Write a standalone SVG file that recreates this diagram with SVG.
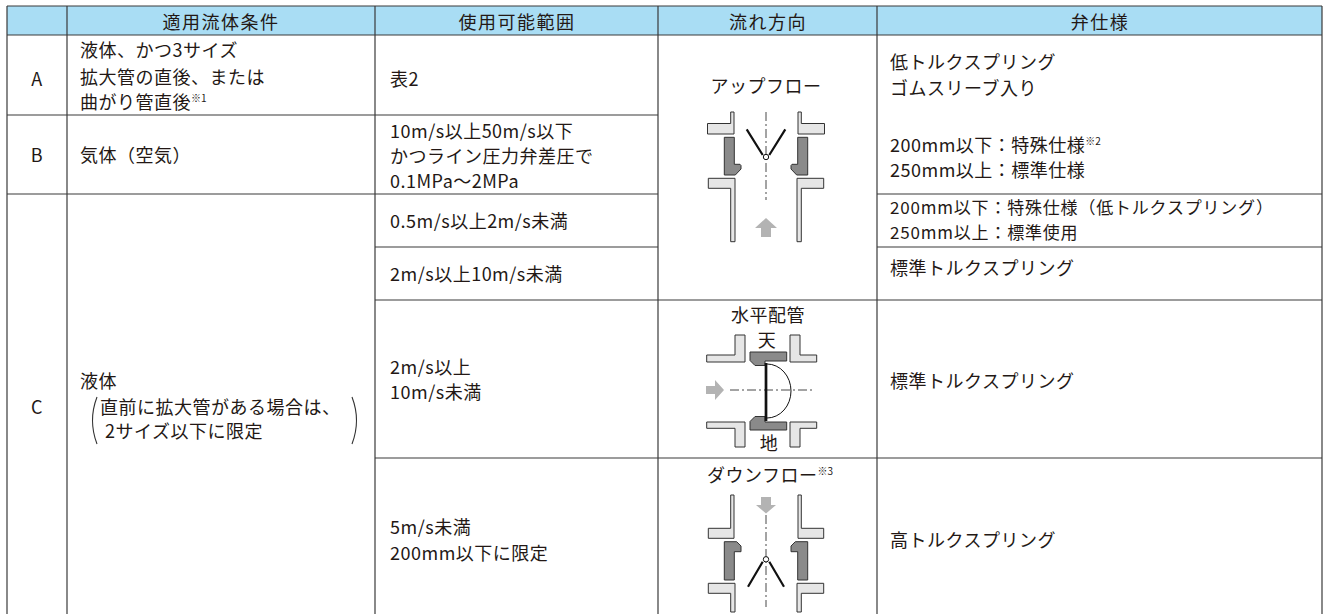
<svg xmlns="http://www.w3.org/2000/svg" width="1327" height="614" viewBox="0 0 1327 614">
<defs>
<style>
text { font-family: "Noto Sans CJK JP", "Noto Sans", sans-serif; font-size: 18px; fill: #231815; letter-spacing: 0.5px; }
.hd { text-anchor: middle; letter-spacing: 1.5px; }
.c { text-anchor: middle; }
.sm { font-size: 17px; letter-spacing: 0.8px; }
.sup { font-size: 10px; letter-spacing: 0; }
.grid line { stroke: #3a3a3a; stroke-width: 1.2; }
.fl { fill: #e6e6e6; stroke: #333; stroke-width: 1; }
.dk { fill: #8a8a8a; stroke: #333; stroke-width: 1; }
.disc { stroke: #111; stroke-width: 2.2; fill: none; }
.cl { stroke: #333; stroke-width: 0.9; stroke-dasharray: 9 3 2 3; fill: none; }
.arr { fill: #b3b3b3; }
.pivot { fill: #fff; stroke: #111; stroke-width: 1; }
.br { fill: none; stroke: #333; stroke-width: 1.1; }
</style>
</defs>
<rect width="1327" height="614" fill="#fff"/>
<g id="header">
<rect x="7" y="6" width="1315" height="29" fill="#a9ddf4"/>
<text class="hd" x="221" y="29">適用流体条件</text>
<text class="hd" x="517" y="29">使用可能範囲</text>
<text class="hd" x="768" y="29">流れ方向</text>
<text class="hd" x="1100" y="29">弁仕様</text>
</g>
<g id="grid" class="grid">
<line x1="7" y1="6" x2="7" y2="614"/>
<line x1="67" y1="6" x2="67" y2="614"/>
<line x1="375" y1="6" x2="375" y2="614"/>
<line x1="658" y1="6" x2="658" y2="614"/>
<line x1="877" y1="6" x2="877" y2="614"/>
<line x1="1322" y1="6" x2="1322" y2="614"/>
<line x1="7" y1="6" x2="1322" y2="6"/>
<line x1="7" y1="35" x2="1322" y2="35"/>
<line x1="7" y1="115" x2="658" y2="115"/>
<line x1="7" y1="194" x2="658" y2="194"/>
<line x1="877" y1="194" x2="1322" y2="194"/>
<line x1="375" y1="247" x2="658" y2="247"/>
<line x1="877" y1="247" x2="1322" y2="247"/>
<line x1="375" y1="300" x2="1322" y2="300"/>
<line x1="375" y1="458" x2="1322" y2="458"/>
</g>
<g id="row-a">
<text class="c" x="37" y="86">A</text>
<text x="80" y="57">液体、かつ3サイズ</text>
<text x="80" y="84">拡大管の直後、または</text>
<text x="80" y="109">曲がり管直後<tspan class="sup" dy="-7">※1</tspan></text>
<text x="390" y="86">表2</text>
</g>
<g id="row-b">
<text class="c" x="37" y="162">B</text>
<text x="80" y="162">気体（空気）</text>
<text x="390" y="138">10m/s以上50m/s以下</text>
<text x="390" y="163">かつライン圧力弁差圧で</text>
<text x="390" y="188">0.1MPa〜2MPa</text>
</g>
<g id="spec-ab">
<text x="890" y="69">低トルクスプリング</text>
<text x="890" y="95">ゴムスリーブ入り</text>
<text x="890" y="152">200mm以下：特殊仕様<tspan class="sup" dy="-7">※2</tspan></text>
<text x="890" y="177">250mm以上：標準仕様</text>
</g>
<g id="row-c">
<text class="c" x="37" y="414">C</text>
<text x="80" y="388">液体</text>
<path class="br" d="M97,397 Q88,420.5 97,444"/>
<text x="100" y="414">直前に拡大管がある場合は、</text>
<text x="105" y="438">2サイズ以下に限定</text>
<path class="br" d="M352,397 Q361,420.5 352,444"/>
</g>
<g id="row-c1">
<text x="390" y="228">0.5m/s以上2m/s未満</text>
<text class="sm" x="890" y="213.5">200mm以下：特殊仕様（低トルクスプリング）</text>
<text class="sm" x="890" y="238.5">250mm以上：標準使用</text>
</g>
<g id="row-c2">
<text x="390" y="281">2m/s以上10m/s未満</text>
<text x="890" y="275">標準トルクスプリング</text>
</g>
<g id="row-c3">
<text x="390" y="374">2m/s以上</text>
<text x="390" y="399">10m/s未満</text>
<text x="890" y="388">標準トルクスプリング</text>
</g>
<g id="row-c4">
<text x="390" y="534">5m/s未満</text>
<text x="390" y="560">200mm以下に限定</text>
<text x="890" y="547">高トルクスプリング</text>
</g>
<g id="flow-up">
<text class="c" x="766" y="93">アップフロー</text>
<g transform="translate(766,0)">
<path class="fl" d="M-35.3,112 H-32 V134 H-58.5 V123.5 H-35.3 Z"/>
<path class="fl" d="M35.3,112 H32 V134 H58.5 V123.5 H35.3 Z"/>
<path class="dk" d="M-41.7,137.3 H-31.7 V164.3 H-26 L-25,165.5 V169 L-30.7,175 H-41.7 Z"/>
<path class="dk" d="M41.7,137.3 H31.7 V164.3 H26 L25,165.5 V169 L30.7,175 H41.7 Z"/>
<path class="cl" d="M0,112 V200"/>
<path class="disc" d="M-19.3,129.3 L-3.3,155 M19.3,129.3 L3.3,155"/>
<circle class="pivot" cx="0" cy="157" r="2.7"/>
<path class="fl" d="M-57.7,178.3 H-31 V241.7 H-35.3 V188.3 H-57.7 Z"/>
<path class="fl" d="M57.7,178.3 H31 V241.7 H35.3 V188.3 H57.7 Z"/>
<path class="arr" d="M0,218 L11,228 H5 V237 H-5 V228 H-11 Z"/>
</g>
</g>
<g id="flow-horizontal">
<text class="c" x="768" y="322">水平配管</text>
<text class="c" x="767" y="347">天</text>
<text class="c" x="769" y="450">地</text>
<g transform="translate(766,0)">
<path class="fl" d="M-31,335 H-21 V362 H-59.3 V355 H-31 Z"/>
<path class="fl" d="M34,335 H24 V362 H50.7 V355 H34 Z"/>
<path class="fl" d="M-59.3,422 H-21 V447 H-31 V428.3 H-59.3 Z"/>
<path class="fl" d="M50.7,422 H24 V447 H34 V428.3 H50.7 Z"/>
<path class="dk" d="M-16,352 H20.7 V361 H-1 V365.5 H-11 L-16,360.5 Z"/>
<path class="dk" d="M-16,430 H20.7 V422 H-1 V416.5 H-11 L-16,421.5 Z"/>
<path class="cl" d="M-36,390 H47"/>
<path d="M1,364 A24,27 0 0 1 1,418" fill="none" stroke="#111" stroke-width="1"/>
<path d="M0,363 V421" stroke="#111" stroke-width="2.7"/>
<path class="arr" d="M-60,386 H-51 V380 L-42,390 L-51,400 V394 H-60 Z"/>
</g>
</g>
<g id="flow-down">
<text x="707" y="482">ダウンフロー<tspan class="sup" dy="-7">※3</tspan></text>
<g transform="translate(766,0)">
<path class="arr" d="M-5,497 H5 V505 H10 L0,513.5 L-10,505 H-5 Z"/>
<path class="fl" d="M-35.3,495 H-32 V538.3 H-57.7 V528.3 H-35.3 Z"/>
<path class="fl" d="M35.3,495 H32 V538.3 H57.7 V528.3 H35.3 Z"/>
<path class="dk" d="M-41.7,541.7 H-29.3 L-25,546 V551.7 H-31.7 V580 H-41.7 Z"/>
<path class="dk" d="M41.7,541.7 H29.3 L25,546 V551.7 H31.7 V580 H41.7 Z"/>
<path class="cl" d="M0,515 V607"/>
<path class="disc" d="M-3.3,561.7 L-18,586.7 M3.3,561.7 L18,586.7"/>
<circle class="pivot" cx="0" cy="559.3" r="2.7"/>
<path class="fl" d="M-57.7,583.3 H-31 V612 H-35.3 V593.3 H-57.7 Z"/>
<path class="fl" d="M57.7,583.3 H31 V612 H35.3 V593.3 H57.7 Z"/>
</g>
</g>
</svg>
